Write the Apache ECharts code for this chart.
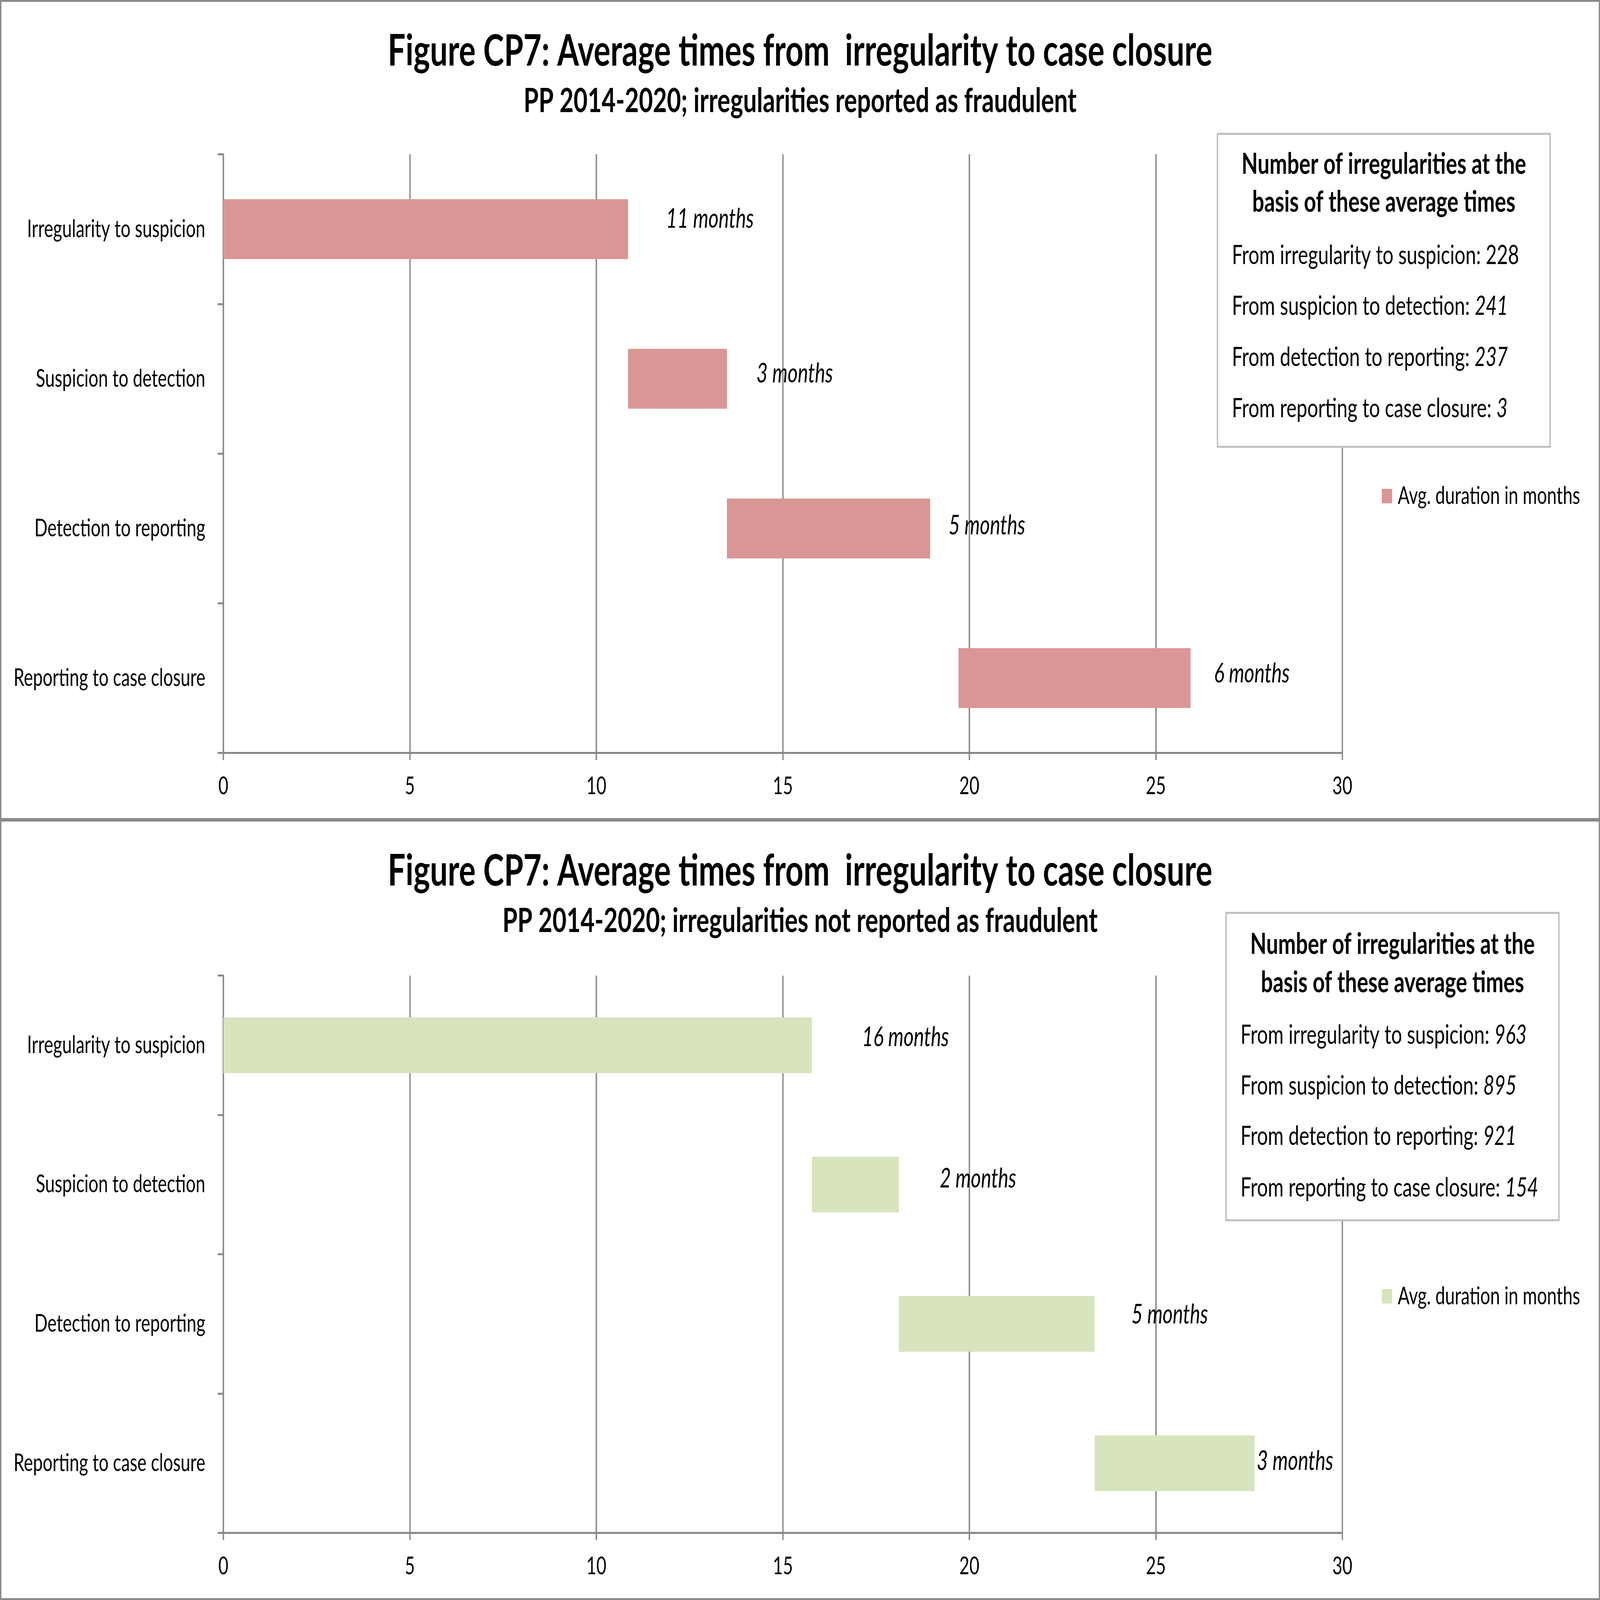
<!DOCTYPE html>
<html>
<head>
<meta charset="utf-8">
<script src="https://cdn.jsdelivr.net/npm/echarts@6/dist/echarts.min.js"></script>
<style>html,body{margin:0;padding:0;background:#fff;overflow:hidden}#c{position:absolute;left:0;top:0;width:7100px;height:5081px;transform-origin:0 0}</style>
</head>
<body>
<div id="c"></div>
<script>
// ---------------- DATA ----------------
const categories = ['Irregularity to suspicion', 'Suspicion to detection', 'Detection to reporting', 'Reporting to case closure'];
const xTicks = [0, 5, 10, 15, 20, 25, 30];
const mainTitle = 'Figure CP7: Average times from  irregularity to case closure';
const subTitles = ['PP 2014-2020; irregularities reported as fraudulent', 'PP 2014-2020; irregularities not reported as fraudulent'];
const seriesName = 'Avg. duration in months';

// reported as fraudulent
const fraudStart = [0, 10.85, 13.50, 19.71];
const fraudDuration = [10.85, 2.65, 5.45, 6.22];
const fraudLabels = ['11 months', '3 months', '5 months', '6 months'];
const fraudCounts = ['228', '241', '237', '3'];

// not reported as fraudulent
const nonFraudStart = [0, 15.78, 18.11, 23.36];
const nonFraudDuration = [15.78, 2.33, 5.25, 4.29];
const nonFraudLabels = ['16 months', '2 months', '5 months', '3 months'];
const nonFraudCounts = ['963', '895', '921', '154'];

const boxTitle = ['Number of irregularities at the', 'basis of these average times'];
const countLabels = ['From irregularity to suspicion: ', 'From suspicion to detection: ', 'From detection to reporting: ', 'From reporting to case closure: '];

// ---------------- LAYOUT ----------------
const W0 = 7100, H0 = 5081;
const el = document.getElementById('c');
const vw = window.innerWidth || W0, vh = window.innerHeight || H0;
const sx = vw / W0, sy = vh / H0;
el.style.transform = 'scale(' + sx + ',' + sy + ')';

const FAM = 'Lato';
const FONT = 'Lato, "Open Sans", sans-serif';
const mctx = document.createElement('canvas').getContext('2d');
function fit(text, target, weight, style) {
  mctx.font = (style || 'normal') + ' ' + (weight || 'normal') + ' 100px ' + FAM;
  return 100 * target / mctx.measureText(text).width;
}
const titleSize = fit(mainTitle, 3659, 'bold');
const subSize = fit(subTitles[0], 2454, 'bold');
const catSize = fit('Reporting to case closure', 851);
const boxTitleSize = fit(boxTitle[0], 1263, 'bold');
const boxItemSize = fit('From irregularity to suspicion: 228', 1274);
const legendSize = fit(seriesName, 809);
const labelSize = fit('11 months', 390, 'normal', 'italic');

const GRID_LEFT = 991, GRID_RIGHT = W0 - 5956;
const AXIS_GREY = '#868686';

const panels = [
  { start: fraudStart, dur: fraudDuration, labels: fraudLabels, counts: fraudCounts, italic: [false, true, true, true],
    color: '#d99694', sub: subTitles[0], titleY: 163, subY: 321, gridTop: 490, gridBottom: 2391,
    labelNudge: [[168, -32], [131, -16], [82, -9], [104, -14]],
    box: { x: 5402, y: 425, w: 1476, h: 994, titleYs: [522, 642], itemX: 5466, itemYs: [811, 973, 1135, 1297] },
    legendY: 1560, border: { y: 3, h: 2598 } },
  { start: nonFraudStart, dur: nonFraudDuration, labels: nonFraudLabels, counts: nonFraudCounts, italic: [true, true, true, true],
    color: '#d7e4bd', sub: subTitles[1], titleY: 2767, subY: 2925, gridTop: 3098, gridBottom: 4868,
    labelNudge: [[222, -25], [181, -18], [163, -29], [9, -7]],
    box: { x: 5440, y: 2899, w: 1477, h: 976, titleYs: [2999, 3121], itemX: 5504, itemYs: [3287, 3449, 3608, 3772] },
    legendY: 4101, border: { y: 2606, h: 2472 } }
];

const titles = [], grids = [], xAxes = [], yAxes = [], series = [], legends = [], graphics = [];

panels.forEach((p, i) => {
  titles.push({ text: mainTitle, left: 'center', top: p.titleY - titleSize / 2, padding: 0,
    textStyle: { fontFamily: FONT, fontWeight: 'bold', fontSize: titleSize, lineHeight: titleSize, color: '#000' } });
  titles.push({ text: p.sub, left: 'center', top: p.subY - subSize / 2, padding: 0,
    textStyle: { fontFamily: FONT, fontWeight: 'bold', fontSize: subSize, lineHeight: subSize, color: '#000' } });

  grids.push({ left: GRID_LEFT, right: GRID_RIGHT, top: p.gridTop, height: p.gridBottom - p.gridTop, containLabel: false });

  xAxes.push({
    type: 'value', gridIndex: i, min: xTicks[0], max: xTicks[xTicks.length - 1], interval: xTicks[1] - xTicks[0],
    axisLine: { show: true, lineStyle: { color: AXIS_GREY, width: 6 } },
    axisTick: { show: true, length: 23, lineStyle: { color: AXIS_GREY, width: 6 } },
    splitLine: { show: true, lineStyle: { color: AXIS_GREY, width: 6 } },
    axisLabel: { margin: 106 - catSize / 2, fontFamily: FONT, fontSize: catSize, color: '#000' }
  });
  yAxes.push({
    type: 'category', gridIndex: i, data: categories, inverse: true,
    axisLine: { show: true, lineStyle: { color: AXIS_GREY, width: 6 } },
    axisTick: { show: true, length: 25, lineStyle: { color: AXIS_GREY, width: 6 } },
    splitLine: { show: false },
    axisLabel: { margin: 80, fontFamily: FONT, fontSize: catSize, color: '#000' }
  });

  series.push({
    name: 'base' + i, type: 'bar', stack: 's' + i, xAxisIndex: i, yAxisIndex: i, barWidth: '40%', silent: true,
    itemStyle: { color: 'rgba(0,0,0,0)' }, data: p.start
  });
  series.push({
    name: seriesName, type: 'bar', stack: 's' + i, xAxisIndex: i, yAxisIndex: i, barWidth: '40%',
    itemStyle: { color: p.color },
    data: p.dur.map((v, j) => ({ value: v, label: { distance: p.labelNudge[j][0], offset: [0, p.labelNudge[j][1]] } })),
    label: { show: true, position: 'right',
      formatter: (d) => p.labels[d.dataIndex],
      fontFamily: FONT, fontStyle: 'italic', fontSize: labelSize, color: '#000' }
  });

  legends.push({
    left: 6131, top: p.legendY - 23, padding: 0, itemWidth: 46, itemHeight: 46, icon: 'rect', selectedMode: false,
    data: [{ name: seriesName, itemStyle: { color: p.color } }],
    textStyle: { fontFamily: FONT, fontSize: legendSize, lineHeight: 46, color: '#000', padding: [0, 0, 0, 20] }
  });

  graphics.push({ type: 'rect', z: 0, silent: true,
    shape: { x: 3, y: p.border.y, width: 7094, height: p.border.h },
    style: { fill: 'none', stroke: '#898989', lineWidth: 6 } });

  const b = p.box;
  graphics.push({ type: 'rect', z: 100, silent: true,
    shape: { x: b.x, y: b.y, width: b.w, height: b.h },
    style: { fill: '#fff', stroke: '#bdbdbd', lineWidth: 6 } });
  boxTitle.forEach((t, j) => {
    graphics.push({ type: 'text', z: 101, silent: true,
      style: { text: t, x: b.x + b.w / 2, y: b.titleYs[j], fill: '#000',
        fontFamily: FONT, fontWeight: 'bold', fontSize: boxTitleSize,
        align: 'center', verticalAlign: 'middle', textAlign: 'center', textVerticalAlign: 'middle' } });
  });
  countLabels.forEach((t, j) => {
    const tag = p.italic[j] ? 'i' : 'n';
    graphics.push({ type: 'text', z: 101, silent: true,
      style: { text: '{n|' + t + '}{' + tag + '|' + p.counts[j] + '}', x: b.itemX, y: b.itemYs[j], fill: '#000',
        fontFamily: FONT, fontSize: boxItemSize,
        align: 'left', verticalAlign: 'middle', textAlign: 'left', textVerticalAlign: 'middle',
        rich: {
          n: { fontFamily: FONT, fontSize: boxItemSize, fontStyle: 'normal', fill: '#000', color: '#000' },
          i: { fontFamily: FONT, fontSize: boxItemSize, fontStyle: 'italic', fill: '#000', color: '#000' }
        } } });
  });
});

const dpr = (window.devicePixelRatio || 1) * Math.min(1, Math.max(sx, sy));
const chart = echarts.init(el, null, { renderer: 'canvas', devicePixelRatio: dpr, width: W0, height: H0 });
chart.setOption({
  backgroundColor: '#fff',
  animation: false,
  title: titles,
  grid: grids,
  xAxis: xAxes,
  yAxis: yAxes,
  legend: legends,
  series: series,
  graphic: graphics
});
</script>
</body>
</html>
